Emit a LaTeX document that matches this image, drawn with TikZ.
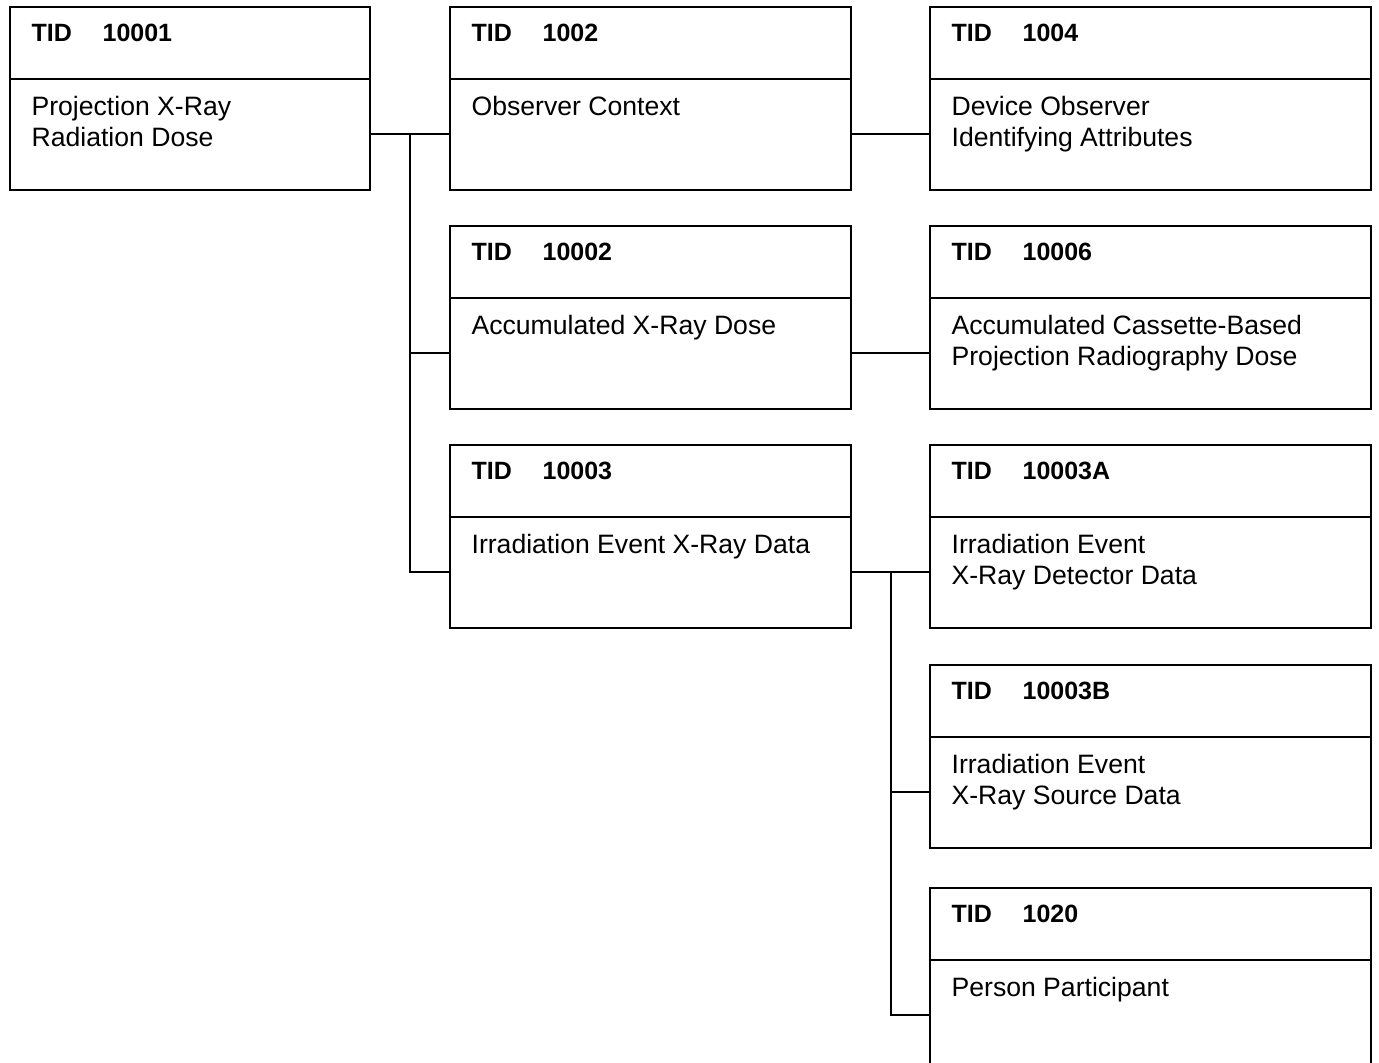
\documentclass[tikz,border=0pt]{standalone}
\usepackage{fontspec}
\setmainfont{Liberation Sans}
\usetikzlibrary{calc}
\newcommand\tidbox[6]{%
  \node[boxshape,minimum width=#4] (#1) at (#2,#3) {};
  \draw ([yshift=-73pt]#1.north west) -- ([yshift=-73pt]#1.north east);
  \node[hdrtext] (#1-h) at ([xshift=21.5pt,yshift=-35.5pt]#1.north west) {TID};
  \node[hdrtext] (#1-n) at ([xshift=92.5pt,yshift=-35.5pt]#1.north west) {#5};
  \node[bodytext] (#1-b) at ([xshift=21.5pt,yshift=-109.5pt]#1.north west)
    {\begin{tabular}[t]{@{}l@{}}#6\end{tabular}};
  \coordinate (#1-in) at ([yshift=-128pt]#1.north west);
  \coordinate (#1-out) at ([yshift=-128pt]#1.north east);
}
\begin{document}
\begin{tikzpicture}[x=1pt,y=-1pt,line width=2.2pt,
  boxshape/.style={draw=black,minimum height=183pt,anchor=north west,inner sep=0pt},
  hdrtext/.style={anchor=base west,inner sep=0pt,font=\fontsize{25}{30}\selectfont\bfseries},
  bodytext/.style={anchor=base west,inner sep=0pt,font=\fontsize{26.6}{30.7}\selectfont}]
\useasboundingbox (0,0) rectangle (1379,1063);
\fill[white] (0,0) rectangle (1379,1063);
\clip (0,0) rectangle (1379,1063);
\tidbox{a}{9}{6}{360pt}{10001}{Projection X-Ray\\Radiation Dose}
\tidbox{c1}{449}{6}{401pt}{1002}{Observer Context}
\tidbox{c2}{449}{225}{401pt}{10002}{Accumulated X-Ray Dose}
\tidbox{c3}{449}{444}{401pt}{10003}{Irradiation Event X-Ray Data}
\tidbox{d1}{929}{6}{441pt}{1004}{Device Observer\\Identifying Attributes}
\tidbox{d2}{929}{225}{441pt}{10006}{Accumulated Cassette-Based\\Projection Radiography Dose}
\tidbox{d3}{929}{444}{441pt}{10003A}{Irradiation Event\\X-Ray Detector Data}
\tidbox{d4}{929}{664}{441pt}{10003B}{Irradiation Event\\X-Ray Source Data}
\tidbox{d5}{929}{887}{441pt}{1020}{Person Participant}
\coordinate (j1) at ($(a-out)!0.5!(c1-in)$);
\coordinate (j2) at ($(c3-out)!0.5!(d3-in)$);
\draw (a-out) -- (c1-in);
\draw (j1) |- (c2-in);
\draw (j1) |- (c3-in);
\draw (c1-out) -- (d1-in);
\draw (c2-out) -- (d2-in);
\draw (c3-out) -- (d3-in);
\draw (j2) |- (d4-in);
\draw (j2) |- (d5-in);
\end{tikzpicture}
\end{document}
